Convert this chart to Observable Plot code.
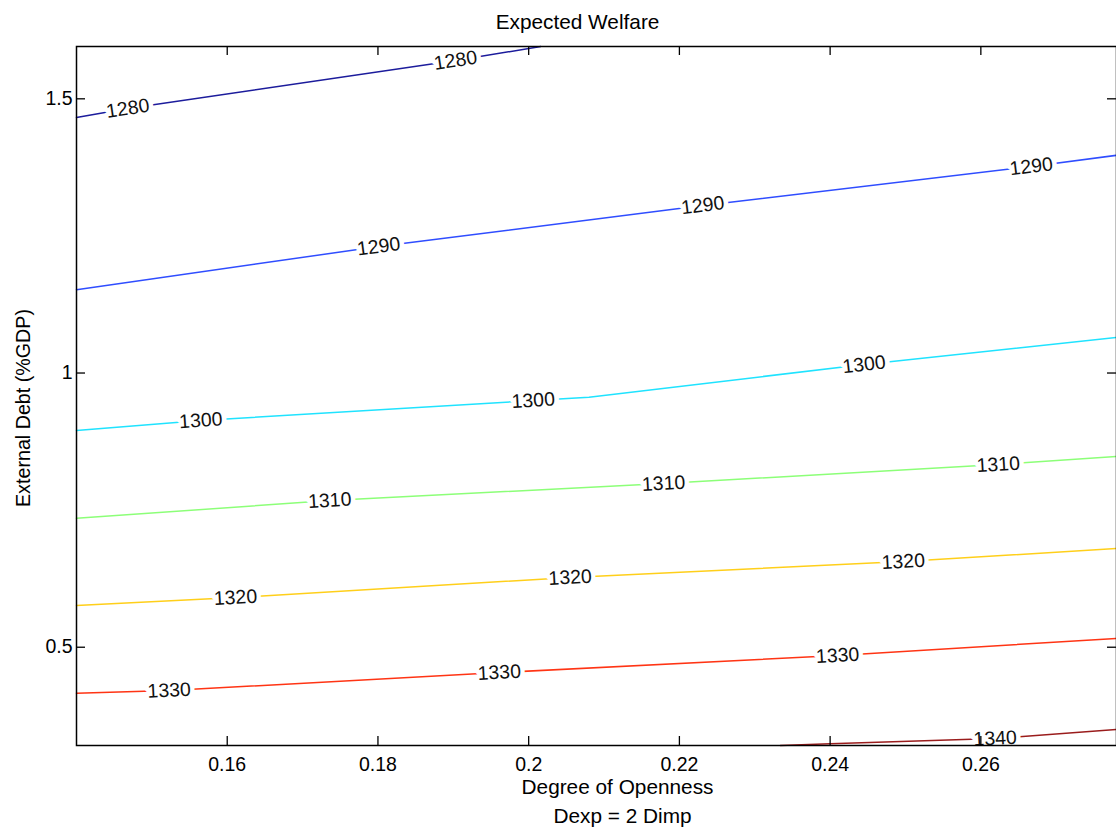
<!DOCTYPE html>
<html>
<head>
<meta charset="utf-8">
<script src="https://cdn.jsdelivr.net/npm/d3@7"></script>
<script src="https://cdn.jsdelivr.net/npm/@observablehq/plot@0.6"></script>
<style>
  html, body { margin: 0; padding: 0; background: #fff; }
  #chart svg { display: block; }
</style>
</head>
<body>
<div id="chart"></div>
<script>
// ---- data ----
const levels = [1280, 1290, 1300, 1310, 1320, 1330, 1340];
const levelColors = ["#1c1c9c", "#2f4dff", "#1fe3ff", "#8cff78", "#ffcf1a", "#ff3414", "#9a1c1c"];

// contour polylines: [openness, debt]
const c1280 = [[0.14, 1.466], [0.1468, 1.4823], [0.1903, 1.5698], [0.2016, 1.5954]];
const c1290 = [[0.14, 1.152], [0.1801, 1.2307], [0.2231, 1.3055], [0.2667, 1.3766], [0.278, 1.397]];
const c1300 = [[0.14, 0.895], [0.1565, 0.9134], [0.2006, 0.9499], [0.2080, 0.9560], [0.2445, 1.0155], [0.278, 1.065]];
const c1310 = [[0.14, 0.735], [0.1736, 0.7675], [0.2179, 0.7985], [0.2623, 0.8331], [0.278, 0.848]];
const c1320 = [[0.14, 0.576], [0.1611, 0.5906], [0.2055, 0.6271], [0.2497, 0.6562], [0.278, 0.680]];
const c1330 = [[0.14, 0.416], [0.1523, 0.4210], [0.1961, 0.4538], [0.2410, 0.4848], [0.278, 0.516]];
const c1340 = [[0.2334, 0.3208], [0.2400, 0.3240], [0.2619, 0.3336], [0.278, 0.350]];
const contours = [c1280, c1290, c1300, c1310, c1320, c1330, c1340];

// inline contour labels
const labelLevel = [1280, 1280, 1290, 1290, 1290, 1300, 1300, 1300, 1310, 1310, 1310, 1320, 1320, 1320, 1330, 1330, 1330, 1340];
const labelX = [0.1468, 0.1903, 0.1801, 0.2231, 0.2667, 0.1565, 0.2006, 0.2445, 0.1736, 0.2179, 0.2623, 0.1611, 0.2055, 0.2497, 0.1523, 0.1961, 0.2410, 0.2619];
const labelY = [1.4823, 1.5698, 1.2307, 1.3055, 1.3766, 0.9134, 0.9499, 1.0155, 0.7675, 0.7985, 0.8331, 0.5906, 0.6271, 0.6562, 0.4210, 0.4538, 0.4848, 0.3336];

const xTicks = [0.16, 0.18, 0.2, 0.22, 0.24, 0.26];
const yTicks = [0.5, 1, 1.5];
const xDomain = [0.14, 0.278];
const yDomain = [0.3208, 1.5954];

// ---- layout ----
const W = 1116, H = 831;
const mL = 76, mR = 0, mT = 46, mB = 86;
const fw = W - mL - mR, fh = H - mT - mB;
const font = "'Liberation Sans', Arial, Helvetica, sans-serif";
const fs = 19.5;   // ticks and contour labels
const fsT = 20.8;  // title and axis titles

// rows
const lineRows = [];
contours.forEach((pts, i) => pts.forEach(([x, y]) => lineRows.push({level: levels[i], x, y})));

// pixel mapping equal to Plot's linear scales, for label rotation
const sx = d3.scaleLinear(xDomain, [mL, W - mR]);
const sy = d3.scaleLinear(yDomain, [H - mB, mT]);
const labels = labelLevel.map((lv, i) => {
  const pts = contours[levels.indexOf(lv)];
  let k = pts.findIndex(p => Math.abs(p[0] - labelX[i]) < 1e-9);
  const a = pts[Math.max(0, k - 1)], b = pts[Math.min(pts.length - 1, k + 1)];
  const ang = Math.atan2(sy(b[1]) - sy(a[1]), sx(b[0]) - sx(a[0])) * 180 / Math.PI;
  return {level: lv, x: labelX[i], y: labelY[i], text: String(lv), rotate: ang};
});

const plot = Plot.plot({
  width: W, height: H,
  marginLeft: mL, marginRight: mR, marginTop: mT, marginBottom: mB,
  style: {fontFamily: font, fontSize: fs + "px", background: "#fff", color: "#000"},
  x: {domain: xDomain},
  y: {domain: yDomain},
  color: {type: "ordinal", domain: levels, range: levelColors},
  marks: [
    Plot.line(lineRows, {x: "x", y: "y", z: "level", stroke: "level", strokeWidth: 1.5, curve: "linear"}),
    Plot.text(labels, {x: "x", y: "y", text: "text", rotate: "rotate", fill: "#111", stroke: "white", strokeWidth: 9, fontSize: fs, fontFamily: font}),
    Plot.frame({stroke: "#000", strokeWidth: 1.5}),
    Plot.tickX(xTicks, {x: d => d, stroke: "#000", strokeWidth: 1.3, insetTop: fh - 9}),
    Plot.tickX(xTicks, {x: d => d, stroke: "#000", strokeWidth: 1.3, insetBottom: fh - 9}),
    Plot.tickY(yTicks, {y: d => d, stroke: "#000", strokeWidth: 1.3, insetRight: fw - 9}),
    Plot.tickY(yTicks, {y: d => d, stroke: "#000", strokeWidth: 1.3, insetLeft: fw - 9}),
    Plot.axisX({ticks: xTicks, tickFormat: d => String(d), tickSize: 0, tickPadding: 12, label: null, fontSize: fs}),
    Plot.axisY({ticks: yTicks, tickFormat: d => String(d), tickSize: 0, tickPadding: 4, label: null, fontSize: fs}),
    Plot.text(["Expected Welfare"], {frameAnchor: "top", textAnchor: "middle", dx: -19, dy: -32, fontSize: fsT, fill: "#000"}),
    Plot.text(["Degree of Openness"], {frameAnchor: "bottom", textAnchor: "middle", dx: 21, dy: 48, fontSize: fsT, fill: "#000"}),
    Plot.text(["Dexp = 2 Dimp"], {frameAnchor: "bottom", textAnchor: "middle", dx: 26, dy: 77, fontSize: fsT, fill: "#000"}),
    Plot.text(["External Debt (%GDP)"], {frameAnchor: "left", textAnchor: "middle", dx: -53, dy: 12, rotate: -90, fontSize: 19.7, fill: "#000"})
  ]
});
document.getElementById("chart").appendChild(plot);
</script>
</body>
</html>
